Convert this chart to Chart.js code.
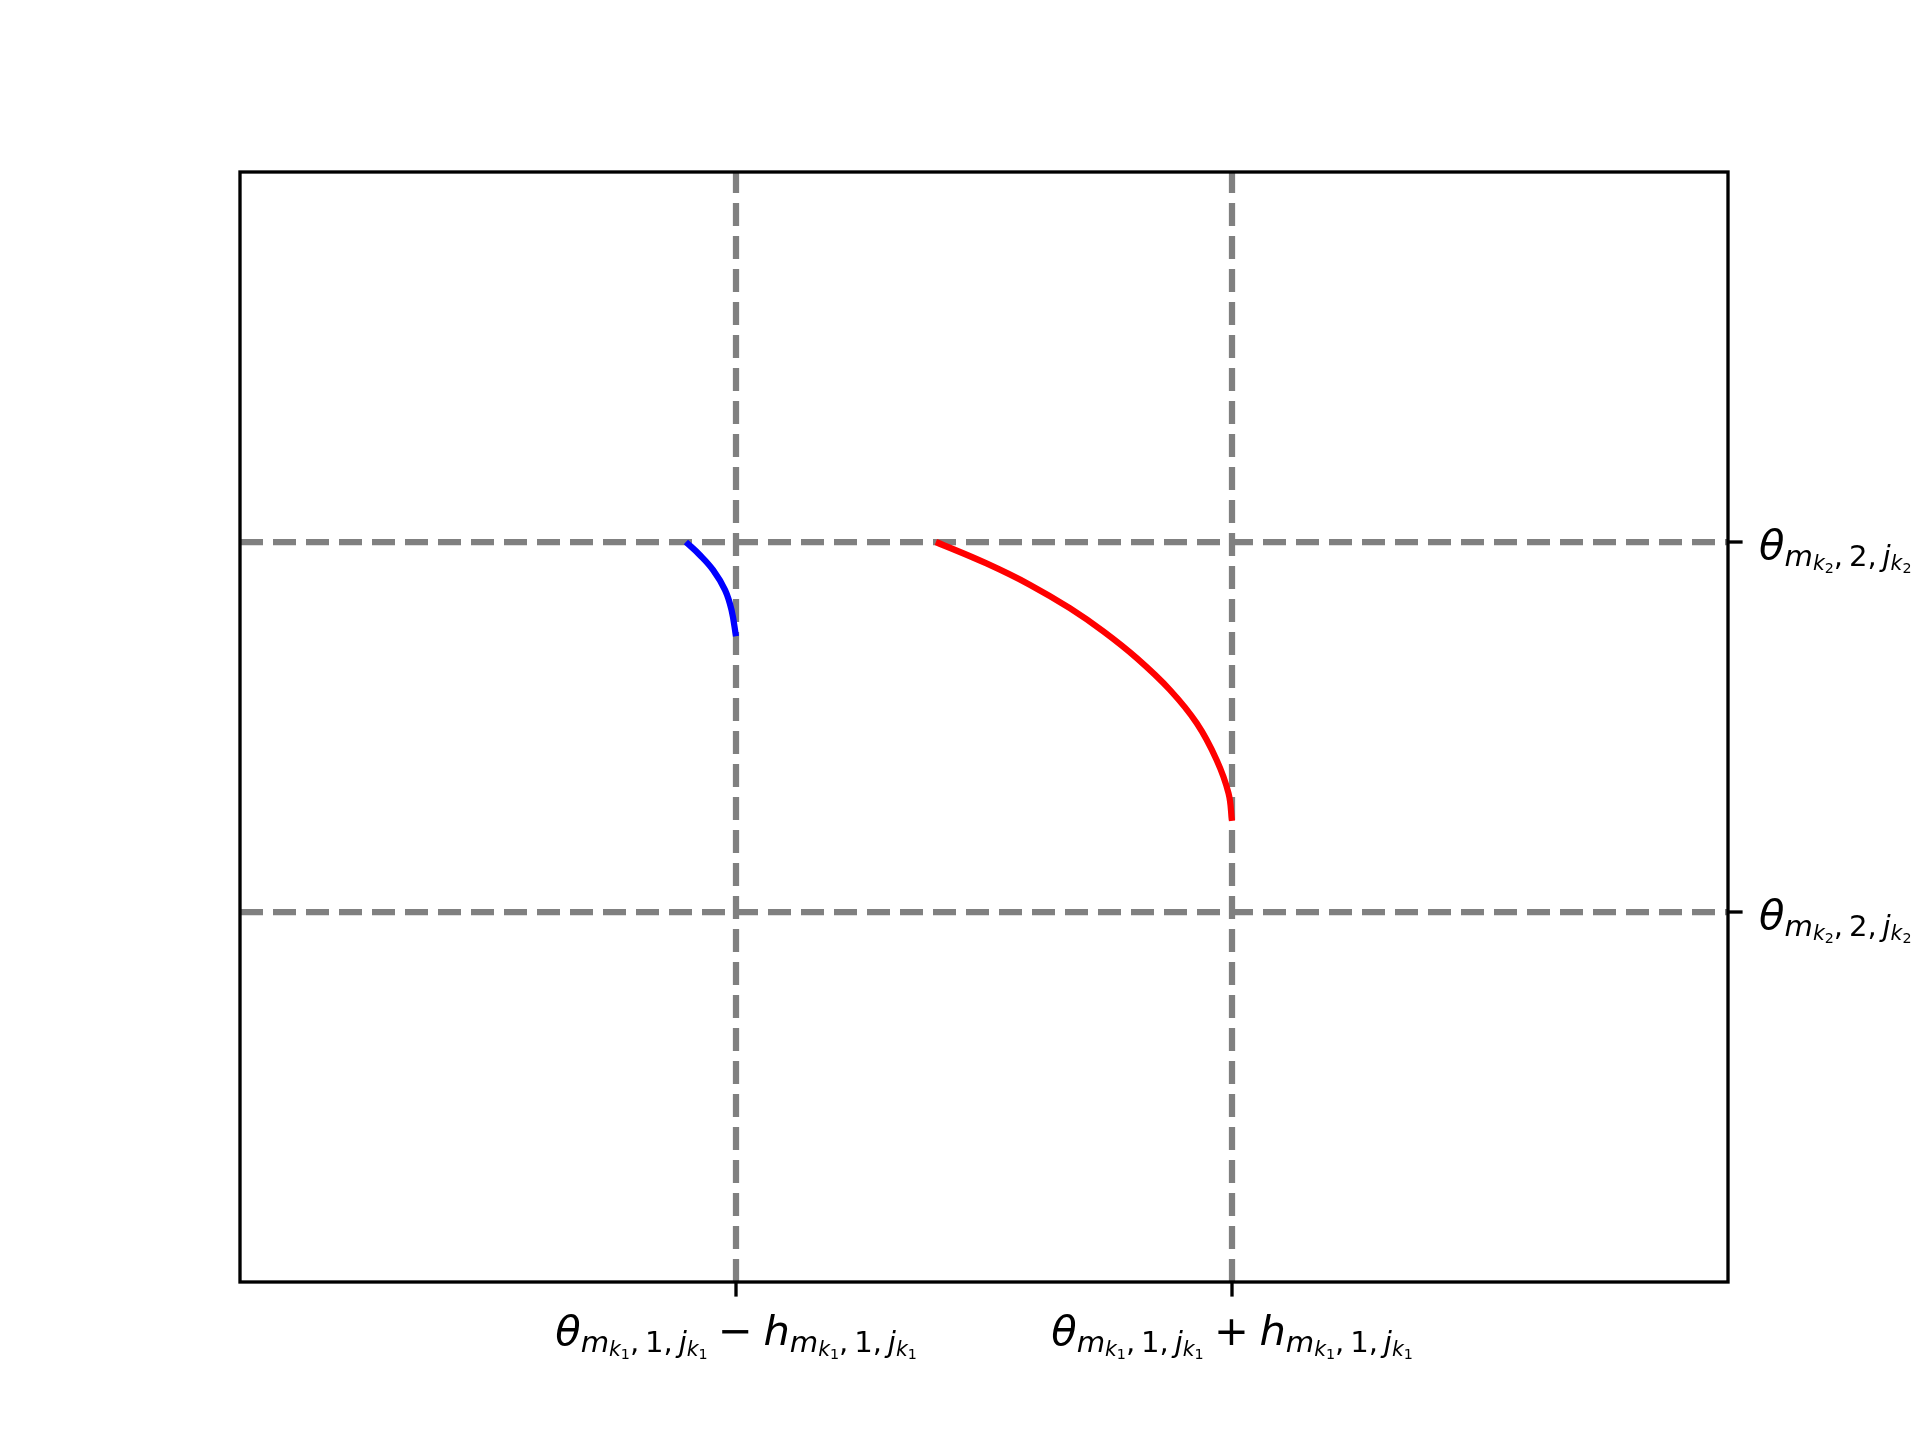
<!DOCTYPE html>
<html>
<head>
<meta charset="utf-8">
<script src="https://cdn.jsdelivr.net/npm/chart.js@4.4.1/dist/chart.umd.min.js"></script>
<style>
  html, body { margin: 0; padding: 0; background: #fff; }
  #wrap { width: 1920px; height: 1440px; }
</style>
</head>
<body>
<div id="wrap"><canvas id="plot" width="1920" height="1440"></canvas></div>
<script>
// axis limits
const xRange = [0, 3];
const yRange = [0, 3];

// tick positions (dashed reference lines sit on them too)
const xTicks = [1, 2];
const yTicks = [1, 2];

// tick labels as mathtext-ish runs: [text, level, italic]
const SP = "\u2009"; // thin space after commas
const OP = "\u2005"; // space around binary operator
const xTickLabels = [
  [["θ",0,1],["m",1,1],["k",2,1],["1",3,0],[","+SP+"1,"+SP,1,0],["j",1,1],["k",2,1],["1",3,0],
   [OP+"−"+OP,0,0],["h",0,1],["m",1,1],["k",2,1],["1",3,0],[","+SP+"1,"+SP,1,0],["j",1,1],["k",2,1],["1",3,0]],
  [["θ",0,1],["m",1,1],["k",2,1],["1",3,0],[","+SP+"1,"+SP,1,0],["j",1,1],["k",2,1],["1",3,0],
   [OP+"+"+OP,0,0],["h",0,1],["m",1,1],["k",2,1],["1",3,0],[","+SP+"1,"+SP,1,0],["j",1,1],["k",2,1],["1",3,0]]
];
const yTickLabels = [
  [["θ",0,1],["m",1,1],["k",2,1],["2",3,0],[","+SP+"2,"+SP,1,0],["j",1,1],["k",2,1],["2",3,0]],
  [["θ",0,1],["m",1,1],["k",2,1],["2",3,0],[","+SP+"2,"+SP,1,0],["j",1,1],["k",2,1],["2",3,0]]
];

// blue curve
const blueX = [0.899, 0.927, 0.954, 0.978, 0.991, 1.000];
const blueY = [2.000, 1.965, 1.924, 1.870, 1.816, 1.745];

// red curve
const redX = [1.403, 1.505, 1.593, 1.673, 1.741, 1.808, 1.875, 1.929, 1.969, 1.993, 2.000];
const redY = [2.000, 1.942, 1.884, 1.821, 1.758, 1.686, 1.600, 1.510, 1.411, 1.321, 1.246];

const toPts = (xs, ys) => xs.map((x, i) => ({ x: x, y: ys[i] }));

const sizes = [41.67, 29.17, 20.42, 14.29];
const drops = [0, 7, 11, 14];

function runFont(r) {
  return (r[2] ? "italic " : "") + sizes[r[1]] + "px 'DejaVu Sans'";
}

function mathWidth(ctx, runs) {
  let w = 0;
  runs.forEach((r) => {
    ctx.font = runFont(r);
    w += ctx.measureText(r[0]).width;
  });
  return w;
}

function drawMath(ctx, runs, x, baseline) {
  let cx = x;
  runs.forEach((r) => {
    ctx.font = runFont(r);
    ctx.fillText(r[0], cx, baseline + drops[r[1]]);
    cx += ctx.measureText(r[0]).width;
  });
}

// frame, ticks and tick labels
const framePlugin = {
  id: "frame",
  afterDatasetsDraw(chart) {
    const ctx = chart.ctx;
    const a = chart.chartArea;
    const xs = chart.scales.x;
    const ys = chart.scales.y;
    ctx.save();
    ctx.strokeStyle = "#000";
    ctx.lineWidth = 3.33;
    ctx.strokeRect(a.left, a.top, a.right - a.left, a.bottom - a.top);

    ctx.fillStyle = "#000";
    ctx.textBaseline = "alphabetic";
    ctx.textAlign = "left";

    xTicks.forEach((v, i) => {
      const px = xs.getPixelForValue(v);
      ctx.beginPath();
      ctx.moveTo(px, a.bottom);
      ctx.lineTo(px, a.bottom + 14.6);
      ctx.stroke();
      const w = mathWidth(ctx, xTickLabels[i]);
      drawMath(ctx, xTickLabels[i], px - w / 2, a.bottom + 63);
    });

    yTicks.forEach((v, i) => {
      const py = ys.getPixelForValue(v);
      ctx.beginPath();
      ctx.moveTo(a.right, py);
      ctx.lineTo(a.right + 14.6, py);
      ctx.stroke();
      drawMath(ctx, yTickLabels[i], a.right + 31, py + 17);
    });
    ctx.restore();
  }
};

const dashStyle = {
  borderColor: "#808080",
  borderWidth: 6.25,
  borderDash: [23, 10],
  pointRadius: 0,
  fill: false,
  tension: 0
};

const datasets = [
  {
    label: "blue",
    data: toPts(blueX, blueY),
    borderColor: "#0000ff",
    borderWidth: 6.25,
    pointRadius: 0,
    fill: false,
    tension: 0.4
  },
  {
    label: "red",
    data: toPts(redX, redY),
    borderColor: "#ff0000",
    borderWidth: 6.25,
    pointRadius: 0,
    fill: false,
    tension: 0.4
  }
];

xTicks.forEach((v) => {
  datasets.push(Object.assign({ label: "vx" + v, data: [{ x: v, y: yRange[0] }, { x: v, y: yRange[1] }] }, dashStyle));
});
yTicks.forEach((v) => {
  datasets.push(Object.assign({ label: "hy" + v, data: [{ x: xRange[0], y: v }, { x: xRange[1], y: v }] }, dashStyle));
});

new Chart(document.getElementById("plot"), {
  type: "line",
  data: { datasets: datasets },
  options: {
    responsive: false,
    animation: false,
    devicePixelRatio: 1,
    layout: { padding: { left: 240, right: 192, top: 172, bottom: 158 } },
    plugins: {
      legend: { display: false },
      tooltip: { enabled: false }
    },
    scales: {
      x: { type: "linear", min: xRange[0], max: xRange[1], display: false },
      y: { type: "linear", min: yRange[0], max: yRange[1], display: false }
    }
  },
  plugins: [framePlugin]
});
</script>
</body>
</html>
